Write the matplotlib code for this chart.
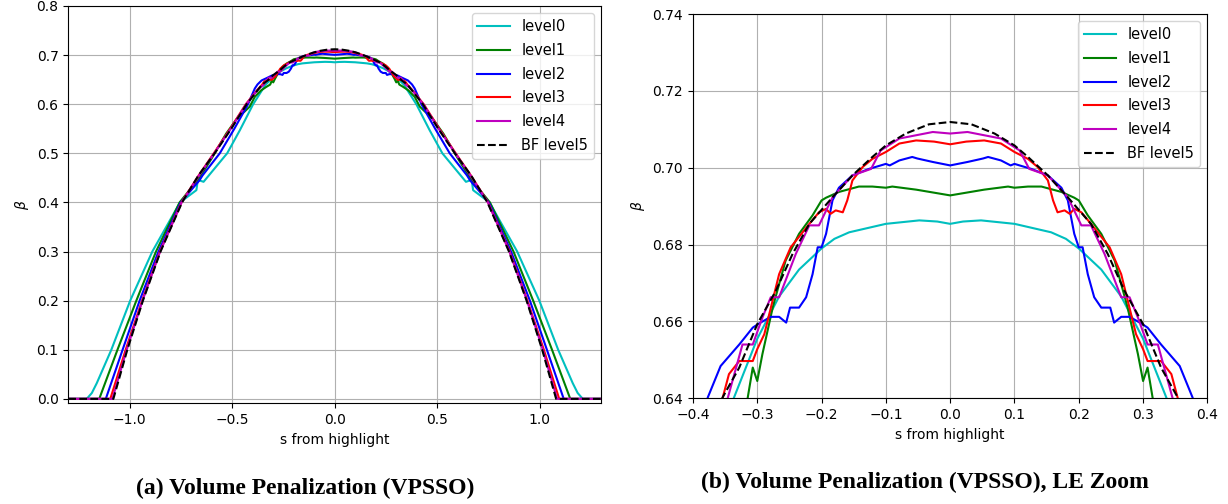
import matplotlib
matplotlib.use("Agg")
import matplotlib.pyplot as plt

# data (s from highlight, beta)
level0_s = [-1.3, -1.21, -1.185, -1.161, -1.09, -0.998, -0.89, -0.755, -0.675, -0.668, -0.64, -0.525,
            -0.463, -0.398, -0.36, -0.339, -0.3, -0.266, -0.235, -0.2, -0.18, -0.157, -0.1,
            -0.048, -0.02, 0.0, 0.02, 0.048, 0.1, 0.157, 0.18, 0.2, 0.235, 0.266, 0.3, 0.339,
            0.36, 0.398, 0.463, 0.525, 0.64, 0.668, 0.675, 0.755, 0.89, 0.998, 1.09, 1.161, 1.185, 1.21, 1.3]
level0_beta = [0.0, 0.0, 0.012, 0.032, 0.1, 0.2, 0.3, 0.4, 0.425, 0.446, 0.442, 0.5,
               0.547, 0.6, 0.625, 0.639, 0.6555, 0.6665, 0.6735, 0.679, 0.6815, 0.6832, 0.6854,
               0.6863, 0.686, 0.6854, 0.686, 0.6863, 0.6854, 0.6832, 0.6815, 0.679, 0.6735, 0.6665, 0.6555, 0.639,
               0.625, 0.6, 0.547, 0.5, 0.442, 0.446, 0.425, 0.4, 0.3, 0.2, 0.1, 0.032, 0.012, 0.0, 0.0]

level1_s = [-1.3, -1.149, -1.06, -0.968, -0.872, -0.757, -0.66, -0.6, -0.53, -0.47, -0.44, -0.415,
            -0.39, -0.36, -0.333, -0.315, -0.307, -0.3, -0.292, -0.276, -0.256, -0.235, -0.214, -0.2,
            -0.193, -0.173, -0.142, -0.121, -0.1, -0.09, -0.053, 0.0, 0.053, 0.09, 0.1, 0.121, 0.142,
            0.173, 0.193, 0.2, 0.214, 0.235, 0.256, 0.276, 0.292, 0.3, 0.307, 0.315, 0.333, 0.36, 0.39,
            0.415, 0.44, 0.47, 0.53, 0.6, 0.66, 0.757, 0.872, 0.968, 1.06, 1.149, 1.3]
level1_beta = [0.0, 0.0, 0.1, 0.2, 0.3, 0.4, 0.45, 0.49, 0.54, 0.575, 0.585, 0.595,
               0.615, 0.628, 0.6355, 0.640, 0.648, 0.6445, 0.6515, 0.6636, 0.6758, 0.6828, 0.6876, 0.6915,
               0.6922, 0.6937, 0.6951, 0.6951, 0.6948, 0.6951, 0.6943, 0.6928, 0.6943, 0.6951, 0.6948, 0.6951, 0.6951,
               0.6937, 0.6922, 0.6915, 0.6876, 0.6828, 0.6758, 0.6636, 0.6515, 0.6445, 0.648, 0.640, 0.6355, 0.628, 0.615,
               0.595, 0.585, 0.575, 0.54, 0.49, 0.45, 0.4, 0.3, 0.2, 0.1, 0.0, 0.0]

level2_s = [-1.3, -1.117, -1.035, -0.952, -0.86, -0.752, -0.66, -0.645, -0.561, -0.49, -0.423, -0.415,
            -0.39, -0.377, -0.357, -0.328, -0.307, -0.297, -0.279, -0.266, -0.255, -0.249, -0.235, -0.224,
            -0.214, -0.206, -0.2, -0.193, -0.183, -0.173, -0.152, -0.126, -0.108, -0.1, -0.094, -0.079,
            -0.059, -0.051, -0.027, 0.0, 0.027, 0.051, 0.059, 0.079, 0.094, 0.1, 0.108, 0.126, 0.152,
            0.173, 0.183, 0.193, 0.2, 0.206, 0.214, 0.224, 0.235, 0.249, 0.255, 0.266, 0.279, 0.297,
            0.307, 0.328, 0.357, 0.377, 0.39, 0.415, 0.423, 0.49, 0.561, 0.645, 0.66, 0.752, 0.86, 0.952,
            1.035, 1.117, 1.3]
level2_beta = [0.0, 0.0, 0.1, 0.2, 0.3, 0.4, 0.445, 0.455, 0.5, 0.55, 0.6, 0.608,
               0.632, 0.6402, 0.6484, 0.654, 0.6584, 0.6595, 0.6612, 0.6612, 0.6597, 0.6636, 0.6636, 0.6663,
               0.6723, 0.6793, 0.6793, 0.6828, 0.6915, 0.6948, 0.698, 0.6997, 0.7006, 0.701, 0.7006, 0.7019,
               0.7028, 0.7024, 0.7015, 0.7006, 0.7015, 0.7024, 0.7028, 0.7019, 0.7006, 0.701, 0.7006, 0.6997, 0.698,
               0.6948, 0.6915, 0.6828, 0.6793, 0.6793, 0.6723, 0.6663, 0.6636, 0.6636, 0.6597, 0.6612, 0.6612, 0.6595,
               0.6584, 0.654, 0.6484, 0.6402, 0.632, 0.608, 0.6, 0.55, 0.5, 0.455, 0.445, 0.4, 0.3, 0.2,
               0.1, 0.0, 0.0]

level3_s = [-1.3, -1.095, -1.02, -0.94, -0.853, -0.748, -0.664, -0.59, -0.51, -0.434, -0.38, -0.354,
            -0.344, -0.328, -0.307, -0.3, -0.289, -0.266, -0.248, -0.219, -0.204, -0.193, -0.186, -0.178,
            -0.167, -0.16, -0.152, -0.136, -0.121, -0.1, -0.079, -0.053, -0.025, 0.0, 0.025, 0.053, 0.079,
            0.1, 0.121, 0.136, 0.152, 0.16, 0.167, 0.178, 0.186, 0.193, 0.204, 0.219, 0.248, 0.266, 0.289,
            0.3, 0.307, 0.328, 0.344, 0.354, 0.38, 0.434, 0.51, 0.59, 0.664, 0.748, 0.853, 0.94, 1.02,
            1.095, 1.3]
level3_beta = [0.0, 0.0, 0.1, 0.2, 0.3, 0.4, 0.455, 0.5, 0.55, 0.6, 0.628, 0.640,
               0.6463, 0.6497, 0.6497, 0.6528, 0.6567, 0.6723, 0.6793, 0.6854, 0.6884, 0.6893, 0.688, 0.6889,
               0.6884, 0.6915, 0.6967, 0.7002, 0.7023, 0.7041, 0.7063, 0.7071, 0.7068, 0.7061, 0.7068, 0.7071, 0.7063,
               0.7041, 0.7023, 0.7002, 0.6967, 0.6915, 0.6884, 0.6889, 0.688, 0.6893, 0.6884, 0.6854, 0.6793, 0.6723, 0.6567,
               0.6528, 0.6497, 0.6497, 0.6463, 0.640, 0.628, 0.6, 0.55, 0.5, 0.455, 0.4, 0.3, 0.2, 0.1,
               0.0, 0.0]

level4_s = [-1.3, -1.085, -1.015, -0.938, -0.852, -0.747, -0.662, -0.588, -0.507, -0.432, -0.375, -0.346,
            -0.323, -0.307, -0.292, -0.279, -0.266, -0.24, -0.219, -0.204, -0.183, -0.152, -0.123, -0.108,
            -0.079, -0.027, 0.0, 0.027, 0.079, 0.108, 0.123, 0.152, 0.183, 0.204, 0.219, 0.24, 0.266,
            0.279, 0.292, 0.307, 0.323, 0.346, 0.375, 0.432, 0.507, 0.588, 0.662, 0.747, 0.852, 0.938,
            1.015, 1.085, 1.3]
level4_beta = [0.0, 0.0, 0.1, 0.2, 0.3, 0.4, 0.455, 0.5, 0.55, 0.6, 0.63, 0.64,
               0.654, 0.654, 0.661, 0.6663, 0.6663, 0.6776, 0.685, 0.685, 0.6923, 0.698, 0.6997, 0.7045,
               0.7076, 0.7093, 0.7089, 0.7093, 0.7076, 0.7045, 0.6997, 0.698, 0.6923, 0.685, 0.685, 0.6776, 0.6663,
               0.6663, 0.661, 0.654, 0.654, 0.64, 0.63, 0.6, 0.55, 0.5, 0.455, 0.4, 0.3, 0.2,
               0.1, 0.0, 0.0]

bf5_s = [-1.3, -1.08, -1.012, -0.936, -0.85, -0.745, -0.665, -0.586, -0.505, -0.43, -0.354, -0.328,
         -0.3, -0.271, -0.245, -0.219, -0.183, -0.152, -0.121, -0.1, -0.069, -0.033, 0.0, 0.033,
         0.069, 0.1, 0.121, 0.152, 0.183, 0.219, 0.245, 0.271, 0.3, 0.328, 0.354, 0.43, 0.505,
         0.586, 0.665, 0.745, 0.85, 0.936, 1.012, 1.08, 1.3]
bf5_beta = [0.0, 0.0, 0.1, 0.2, 0.3, 0.4, 0.455, 0.5, 0.55, 0.6, 0.6402, 0.648,
            0.6593, 0.668, 0.6776, 0.6854, 0.6923, 0.698, 0.7028, 0.7058, 0.7089, 0.7113, 0.7119, 0.7113,
            0.7089, 0.7058, 0.7028, 0.698, 0.6923, 0.6854, 0.6776, 0.668, 0.6593, 0.648, 0.6402, 0.6, 0.55,
            0.5, 0.455, 0.4, 0.3, 0.2, 0.1, 0.0, 0.0]

series = [
    (level0_s, level0_beta, "c", "-", "level0"),
    (level1_s, level1_beta, "g", "-", "level1"),
    (level2_s, level2_beta, "b", "-", "level2"),
    (level3_s, level3_beta, "r", "-", "level3"),
    (level4_s, level4_beta, "m", "-", "level4"),
    (bf5_s, bf5_beta, "k", "--", "BF level5"),
]

plt.rcParams["font.size"] = 10

fig = plt.figure(figsize=(12.28, 5.04), dpi=100)
ax1 = fig.add_axes([0.0556, 0.1998, 0.4340, 0.7883])
ax2 = fig.add_axes([0.5643, 0.2097, 0.4189, 0.7625])

for ax in (ax1, ax2):
    for s, b, col, ls, lab in series:
        ax.plot(s, b, color=col, linestyle=ls, linewidth=1.5, label=lab)
    ax.grid(True)
    ax.set_xlabel("s from highlight")
    ax.set_ylabel(r"$\beta$")
    ax.legend(loc="upper right", fontsize=10.5, labelspacing=0.6, handlelength=2.2)

ax1.set_xlim(-1.3, 1.3)
ax1.set_ylim(-0.009, 0.8)
ax1.set_xticks([-1.0, -0.5, 0.0, 0.5, 1.0])

ax2.set_xlim(-0.4, 0.4)
ax2.set_ylim(0.64, 0.74)

cap = dict(ha="center", va="center", fontfamily="Liberation Serif",
           fontweight="bold", fontsize=17)
fig.text(305 / 1228, 1 - 488 / 504, "(a) Volume Penalization (VPSSO)", **cap)
fig.text(925 / 1228, 1 - 482 / 504, "(b) Volume Penalization (VPSSO), LE Zoom", **cap)

fig.savefig("out.png", dpi=100)
